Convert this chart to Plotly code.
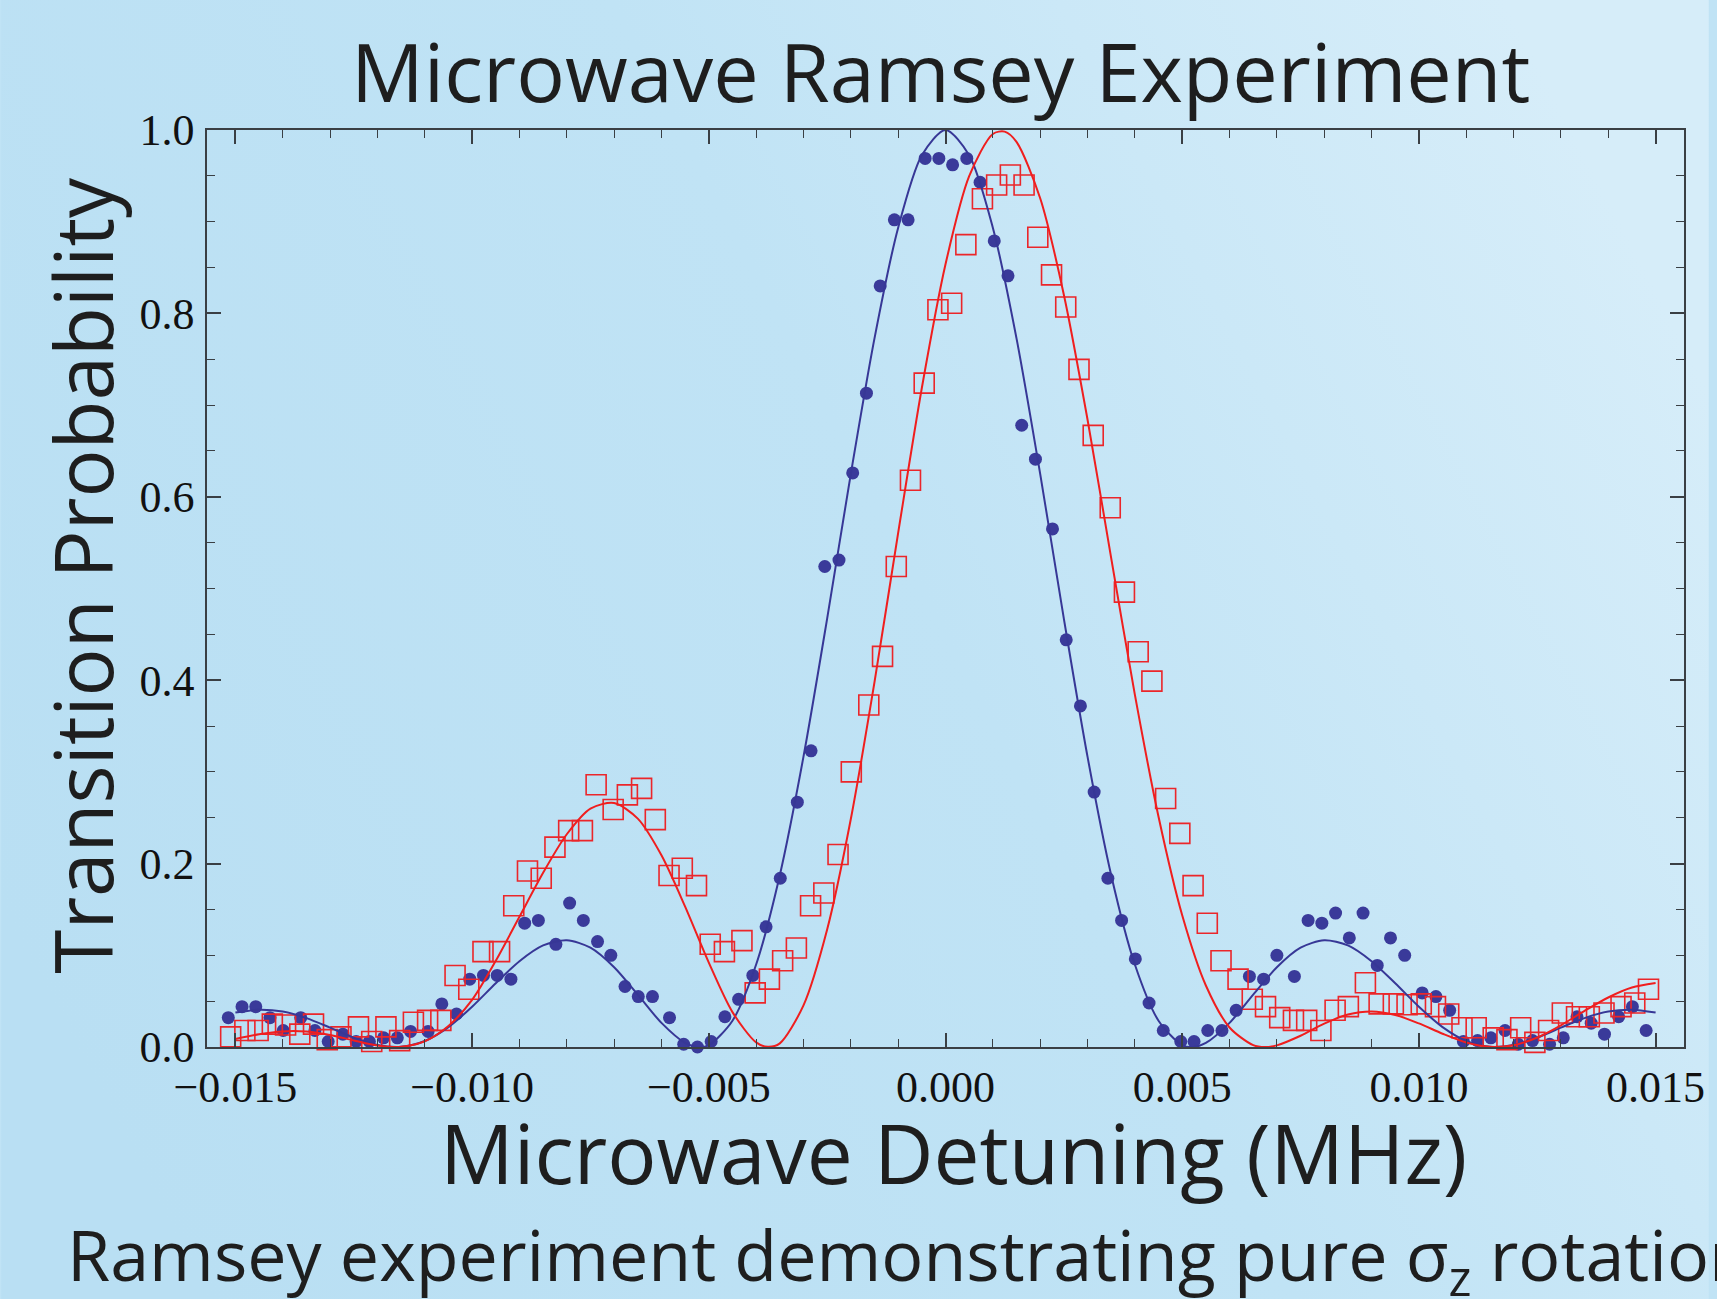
import base64
import plotly.graph_objects as go

# ---------------- data ----------------
blue_x = [-0.01515, -0.01486, -0.01457, -0.01427, -0.01399, -0.01362, -0.01332, -0.01304, -0.01273, -0.01245,
          -0.01217, -0.01187, -0.01158, -0.01130, -0.01093, -0.01064, -0.01033, -0.01005, -0.00976, -0.00947,
          -0.00918, -0.00889, -0.00860, -0.00823, -0.00794, -0.00765, -0.00735, -0.00707, -0.00677, -0.00649,
          -0.00619, -0.00583, -0.00553, -0.00524, -0.00495, -0.00466, -0.00437, -0.00407, -0.00379, -0.00349,
          -0.00313, -0.00284, -0.00255, -0.00225, -0.00196, -0.00167, -0.00138, -0.00108, -0.00079, -0.00043,
          -0.00014, 0.00015, 0.00045, 0.00073, 0.00103, 0.00132, 0.00161, 0.00190, 0.00226, 0.00255,
          0.00285, 0.00314, 0.00343, 0.00372, 0.00401, 0.00430, 0.00460, 0.00497, 0.00525, 0.00554,
          0.00584, 0.00614, 0.00642, 0.00672, 0.00700, 0.00737, 0.00766, 0.00795, 0.00824, 0.00853,
          0.00882, 0.00912, 0.00940, 0.00970, 0.01007, 0.01036, 0.01065, 0.01094, 0.01124, 0.01152,
          0.01182, 0.01210, 0.01240, 0.01276, 0.01305, 0.01334, 0.01364, 0.01392, 0.01422, 0.01451,
          0.01480]
blue_y = [0.032, 0.044, 0.044, 0.032, 0.018, 0.032, 0.018, 0.006, 0.014, 0.006,
          0.006, 0.010, 0.010, 0.017, 0.017, 0.047, 0.036, 0.074, 0.078, 0.078,
          0.074, 0.135, 0.138, 0.112, 0.157, 0.138, 0.115, 0.100, 0.066, 0.055,
          0.055, 0.032, 0.003, 0.000, 0.006, 0.033, 0.052, 0.078, 0.131, 0.184,
          0.267, 0.323, 0.524, 0.531, 0.626, 0.713, 0.830, 0.902, 0.902, 0.969,
          0.969, 0.962, 0.969, 0.943, 0.879, 0.841, 0.678, 0.641, 0.565, 0.444,
          0.372, 0.278, 0.184, 0.138, 0.096, 0.048, 0.018, 0.006, 0.006, 0.018,
          0.018, 0.040, 0.077, 0.074, 0.100, 0.077, 0.138, 0.135, 0.146, 0.119,
          0.146, 0.089, 0.119, 0.100, 0.059, 0.055, 0.040, 0.006, 0.007, 0.010,
          0.018, 0.003, 0.007, 0.003, 0.010, 0.033, 0.026, 0.014, 0.033, 0.044,
          0.018]

red_x = [-0.01510, -0.01480, -0.01452, -0.01422, -0.01394, -0.01364, -0.01335, -0.01306, -0.01277, -0.01240,
         -0.01212, -0.01182, -0.01153, -0.01124, -0.01094, -0.01066, -0.01036, -0.01007, -0.00977, -0.00942,
         -0.00912, -0.00883, -0.00854, -0.00825, -0.00796, -0.00767, -0.00738, -0.00702, -0.00672, -0.00642,
         -0.00613, -0.00584, -0.00556, -0.00526, -0.00497, -0.00467, -0.00430, -0.00402, -0.00372, -0.00344,
         -0.00315, -0.00285, -0.00257, -0.00227, -0.00199, -0.00162, -0.00133, -0.00104, -0.00074, -0.00045,
         -0.00016, 0.00013, 0.00043, 0.00078, 0.00108, 0.00137, 0.00166, 0.00195, 0.00224, 0.00254,
         0.00282, 0.00312, 0.00348, 0.00378, 0.00407, 0.00436, 0.00465, 0.00495, 0.00523, 0.00553,
         0.00582, 0.00618, 0.00648, 0.00676, 0.00706, 0.00735, 0.00763, 0.00793, 0.00823, 0.00851,
         0.00887, 0.00916, 0.00946, 0.00975, 0.01005, 0.01035, 0.01063, 0.01091, 0.01121, 0.01157,
         0.01186, 0.01215, 0.01245, 0.01274, 0.01303, 0.01333, 0.01360, 0.01391, 0.01427, 0.01456,
         0.01485]
red_y = [0.011, 0.018, 0.018, 0.025, 0.024, 0.014, 0.025, 0.008, 0.011, 0.022,
         0.006, 0.022, 0.007, 0.027, 0.029, 0.029, 0.078, 0.063, 0.104, 0.104,
         0.154, 0.192, 0.184, 0.218, 0.236, 0.236, 0.286, 0.259, 0.275, 0.282,
         0.248, 0.187, 0.195, 0.176, 0.112, 0.104, 0.116, 0.059, 0.074, 0.094,
         0.108, 0.154, 0.168, 0.210, 0.300, 0.373, 0.426, 0.524, 0.618, 0.724,
         0.804, 0.811, 0.875, 0.925, 0.940, 0.951, 0.940, 0.883, 0.842, 0.807,
         0.739, 0.667, 0.588, 0.496, 0.431, 0.399, 0.271, 0.233, 0.176, 0.135,
         0.094, 0.074, 0.052, 0.044, 0.032, 0.029, 0.029, 0.018, 0.040, 0.044,
         0.070, 0.047, 0.047, 0.046, 0.047, 0.044, 0.036, 0.021, 0.021, 0.010,
         0.008, 0.021, 0.005, 0.018, 0.037, 0.033, 0.033, 0.037, 0.044, 0.048,
         0.063]

# fitted curves
blue_fit_x = [-0.0150, -0.0145, -0.0140, -0.0135, -0.0130, -0.0125, -0.0120, -0.0115, -0.0110, -0.0105,
              -0.0100, -0.0095, -0.0090, -0.0085, -0.0080, -0.0075, -0.0070, -0.0065, -0.0060, -0.0055,
              -0.00525, -0.0050, -0.0045, -0.0040, -0.0035, -0.0030, -0.0025, -0.0020, -0.0015, -0.0010,
              -0.0005, 0.0000, 0.0005, 0.0010, 0.0015, 0.0020, 0.0025, 0.0030, 0.0035, 0.0040,
              0.0045, 0.0050, 0.00525, 0.0055, 0.0060, 0.0065, 0.0070, 0.0075, 0.0080, 0.0085,
              0.0090, 0.0095, 0.0100, 0.0105, 0.0110, 0.0115, 0.0120, 0.0125, 0.0130, 0.0135,
              0.0140, 0.0145, 0.0150]
blue_fit_y = [0.0375, 0.0406, 0.0386, 0.0315, 0.0211, 0.0102, 0.0022, 0.0002, 0.0066, 0.0217,
              0.0439, 0.0695, 0.0936, 0.1108, 0.1164, 0.1083, 0.0870, 0.0571, 0.0263, 0.0044,
              0.0001, 0.0021, 0.0287, 0.0900, 0.1874, 0.3166, 0.4672, 0.6250, 0.7728, 0.8935,
              0.9725, 1.0000, 0.9725, 0.8935, 0.7728, 0.6250, 0.4672, 0.3166, 0.1874, 0.0900,
              0.0287, 0.0021, 0.0001, 0.0044, 0.0263, 0.0571, 0.0870, 0.1083, 0.1164, 0.1108,
              0.0936, 0.0695, 0.0439, 0.0217, 0.0066, 0.0002, 0.0022, 0.0102, 0.0211, 0.0315,
              0.0386, 0.0406, 0.0375]

red_fit_x = [-0.0150, -0.0145, -0.0140, -0.0135, -0.0130, -0.0125, -0.0120, -0.0115, -0.0110, -0.0105,
             -0.0100, -0.0095, -0.0090, -0.0085, -0.0080, -0.0075, -0.0070, -0.0065, -0.0060, -0.0055,
             -0.0050, -0.0045, -0.0040, -0.00375, -0.0035, -0.0030, -0.0025, -0.0020, -0.0015, -0.0010,
             -0.0005, 0.0000, 0.0005, 0.0010, 0.00125, 0.0015, 0.0020, 0.0025, 0.0030, 0.0035,
             0.0040, 0.0045, 0.0050, 0.0055, 0.0060, 0.0065, 0.00675, 0.0070, 0.0075, 0.0080,
             0.0085, 0.0090, 0.0095, 0.0100, 0.0105, 0.0110, 0.0115, 0.0120, 0.0125, 0.0130,
             0.0135, 0.0140, 0.0145, 0.0150]
red_fit_y = [0.0088, 0.0139, 0.0170, 0.0168, 0.0131, 0.0072, 0.0017, 0.0002, 0.0063, 0.0230,
             0.0514, 0.0940, 0.1420, 0.1900, 0.2320, 0.2600, 0.2660, 0.2490, 0.2090, 0.1530,
             0.0920, 0.0380, 0.0050, 0.0002, 0.0040, 0.0454, 0.1281, 0.2486, 0.3979, 0.5607,
             0.7186, 0.8536, 0.9496, 0.9957, 0.9982, 0.9870, 0.9256, 0.8204, 0.6843, 0.5331,
             0.3843, 0.2511, 0.1437, 0.0671, 0.0213, 0.0020, 0.0000, 0.0018, 0.0123, 0.0255,
             0.0354, 0.0388, 0.0349, 0.0257, 0.0145, 0.0049, 0.0002, 0.0020, 0.0104, 0.0237,
             0.0394, 0.0540, 0.0648, 0.0697]

x_tick_vals = [-0.015, -0.010, -0.005, 0.000, 0.005, 0.010, 0.015]
y_tick_vals = [0.0, 0.2, 0.4, 0.6, 0.8, 1.0]

# ---------------- styles ----------------
W, H = 1717, 1299
ML, MR, MT, MB = 207, 25, 130, 252
PW, PH = W - ML - MR, H - MT - MB

BLUE = "rgb(58,58,154)"
BLUE_LINE = "rgb(55,55,150)"
RED = "rgb(235,38,42)"
RED_LINE = "rgb(240,30,30)"
AXIS = "#3a3f44"
TEXT_FONT = "Open Sans"
TICK_FONT = "Liberation Serif"

svg = (f'<svg xmlns="http://www.w3.org/2000/svg" width="{W}" height="{H}">'
       '<defs><linearGradient id="g" x1="0" y1="0.7" x2="1" y2="0.3">'
       '<stop offset="0" stop-color="#B9DFF3"/>'
       '<stop offset="0.55" stop-color="#C0E3F5"/>'
       '<stop offset="1" stop-color="#D6EDF9"/>'
       '</linearGradient></defs>'
       f'<rect width="{W}" height="{H}" fill="url(#g)"/></svg>')
bg_uri = "data:image/svg+xml;base64," + base64.b64encode(svg.encode()).decode()


def px_x(p):
    return (p - ML) / PW


def px_y(p):
    return (H - MB - p) / PH


fig = go.Figure()

fig.add_trace(go.Scatter(x=blue_x, y=blue_y, mode="markers", cliponaxis=False,
                         marker=dict(symbol="circle", size=13, color=BLUE, line=dict(width=0)),
                         showlegend=False))
fig.add_trace(go.Scatter(x=red_x, y=red_y, mode="markers", cliponaxis=False,
                         marker=dict(symbol="square-open", size=20, color=RED, line=dict(width=1.6, color=RED)),
                         showlegend=False))
fig.add_trace(go.Scatter(x=blue_fit_x, y=blue_fit_y, mode="lines",
                         line=dict(color=BLUE_LINE, width=2, shape="spline", smoothing=0.8),
                         showlegend=False))
fig.add_trace(go.Scatter(x=red_fit_x, y=red_fit_y, mode="lines",
                         line=dict(color=RED_LINE, width=2, shape="spline", smoothing=0.8),
                         showlegend=False))

axis_common = dict(showgrid=False, zeroline=False, showline=True, linecolor=AXIS, linewidth=1.5,
                   mirror="ticks", ticks="inside", ticklen=14, tickwidth=1.5, tickcolor=AXIS,
                   tickfont=dict(family=TICK_FONT, size=44, color="#111"))

fig.update_xaxes(range=[-0.0156, 0.0156], tickvals=x_tick_vals, tickformat=".3f",
                 minor=dict(dtick=0.001, tick0=0, ticks="inside", ticklen=8, tickwidth=1.2, tickcolor=AXIS),
                 ticklabelstandoff=0, **axis_common)
fig.update_yaxes(range=[0, 1], tickvals=y_tick_vals, tickformat=".1f",
                 minor=dict(dtick=0.05, tick0=0, ticks="inside", ticklen=8, tickwidth=1.2, tickcolor=AXIS),
                 ticklabelstandoff=2, **axis_common)

fig.update_layout(
    width=W, height=H,
    margin=dict(l=ML, r=MR, t=MT, b=MB),
    paper_bgcolor="#C0E3F5",
    plot_bgcolor="rgba(0,0,0,0)",
    images=[dict(source=bg_uri, xref="paper", yref="paper",
                 x=px_x(0), y=px_y(0), sizex=W / PW, sizey=H / PH,
                 xanchor="left", yanchor="top", sizing="stretch", layer="below")],
    annotations=[
        dict(text="Microwave Ramsey Experiment", xref="paper", yref="paper",
             x=px_x(944), y=px_y(71), xanchor="center", yanchor="middle", showarrow=False,
             font=dict(family=TEXT_FONT, size=81, color="#1e1e1e")),
        dict(text="Microwave Detuning (MHz)", xref="paper", yref="paper",
             x=px_x(958), y=px_y(1152), xanchor="center", yanchor="middle", showarrow=False,
             font=dict(family=TEXT_FONT, size=82, color="#1e1e1e")),
        dict(text="Transition Probability", xref="paper", yref="paper", textangle=-90,
             x=px_x(80), y=px_y(575), xanchor="center", yanchor="middle", showarrow=False,
             font=dict(family=TEXT_FONT, size=80, color="#1e1e1e")),
        dict(text="Ramsey experiment demonstrating pure σ<sub>z</sub> rotation", xref="paper", yref="paper",
             x=px_x(64), y=px_y(1258), xanchor="left", yanchor="middle", showarrow=False,
             font=dict(family=TEXT_FONT, size=70, color="#1e1e1e")),
    ],
)

fig.write_html("out.html")
